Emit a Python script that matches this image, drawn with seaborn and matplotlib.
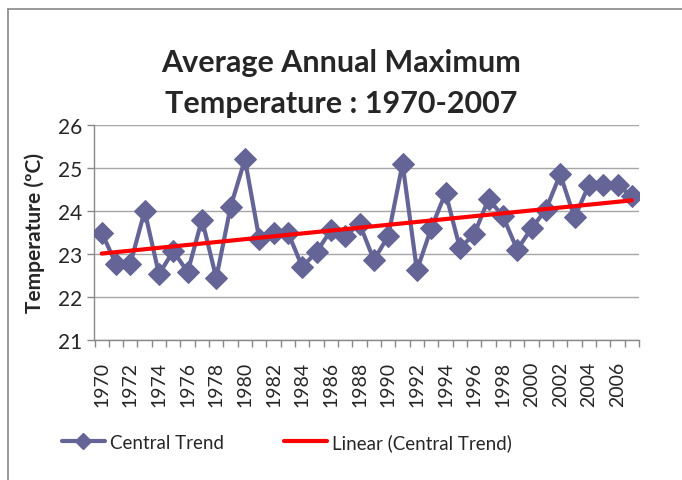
import matplotlib
matplotlib.use("Agg")
import matplotlib.pyplot as plt
import seaborn as sns
import pandas as pd
from matplotlib.lines import Line2D

years = list(range(1970, 2008))
central_trend = [
    23.50, 22.77, 22.77, 24.00, 22.53, 23.07, 22.58, 23.80, 22.44, 24.10,
    25.20, 23.35, 23.50, 23.50, 22.70, 23.05, 23.55, 23.42, 23.70, 22.86,
    23.42, 25.10, 22.62, 23.60, 24.42, 23.14, 23.46, 24.28, 23.88, 23.10,
    23.60, 24.03, 24.85, 23.85, 24.60, 24.60, 24.60, 24.35,
]
y_ticks = [21, 22, 23, 24, 25, 26]
x_labels = [str(y) for y in range(1970, 2007, 2)]

df = pd.DataFrame({"year": years, "temp": central_trend})

sns.set_theme(style="white")
plt.rcParams["font.family"] = ["Lato", "DejaVu Sans"]

line_color = "#646496"
fig = plt.figure(figsize=(6.82, 4.81), dpi=100)
ax = fig.add_axes([94.5 / 682, 1 - 341 / 481, 544.5 / 682, 215 / 481])

sns.regplot(
    data=df, x="year", y="temp", ax=ax, scatter=False, ci=None,
    truncate=True, line_kws=dict(color="#ff0000", lw=3, zorder=4)
)
sns.lineplot(
    data=df, x="year", y="temp", ax=ax, color=line_color, lw=3,
    marker="D", markersize=11, markeredgecolor=line_color, zorder=3
)

ax.set_xlim(1969.5, 2007.5)
ax.set_ylim(21, 26)
ax.set_yticks(y_ticks)
ax.set_yticklabels([str(v) for v in y_ticks], fontsize=15)
ax.set_xticks(range(1970, 2007, 2))
ax.set_xticklabels(x_labels, rotation=90, fontsize=14)
ax.set_xticks([y + 0.5 for y in range(1969, 2008)], minor=True)
ax.tick_params(axis="x", which="major", length=0, pad=15)
ax.tick_params(axis="x", which="minor", length=5, color="#888888", width=1,
               direction="out", bottom=True)
ax.tick_params(axis="y", length=5, color="#888888", width=1, left=True, pad=4)
ax.grid(axis="y", color="#a6a6a6", lw=1)
for s in ["top", "right"]:
    ax.spines[s].set_visible(False)
for s in ["left", "bottom"]:
    ax.spines[s].set_color("#888888")
    ax.spines[s].set_linewidth(1)
ax.set_xlabel("")
ax.set_ylabel("Temperature (ºC)", fontsize=15, fontweight="bold", labelpad=9)

fig.text(0.5, 1 - 63 / 481, "Average Annual Maximum", ha="center", va="center",
         fontsize=22, fontweight="bold")
fig.text(0.5, 1 - 104 / 481, "Temperature : 1970-2007", ha="center", va="center",
         fontsize=22, fontweight="bold")

handles = [
    Line2D([], [], color=line_color, lw=3, marker="D", markersize=8),
    Line2D([], [], color="#ff0000", lw=3),
]
fig.legend(handles, ["Central Trend", "Linear (Central Trend)"],
           loc="center left", bbox_to_anchor=(45 / 682, 1 - 443 / 481),
           ncol=2, frameon=False, fontsize=13.5, handlelength=2.3,
           handletextpad=0.25, columnspacing=3.2)

fig.add_artist(Line2D([8 / 682, 1], [1 - 9.5 / 481] * 2, color="#888888", lw=1.2))
fig.add_artist(Line2D([8 / 682] * 2, [0, 1 - 9.5 / 481], color="#888888", lw=1.2))

fig.savefig("out.png", dpi=100)
